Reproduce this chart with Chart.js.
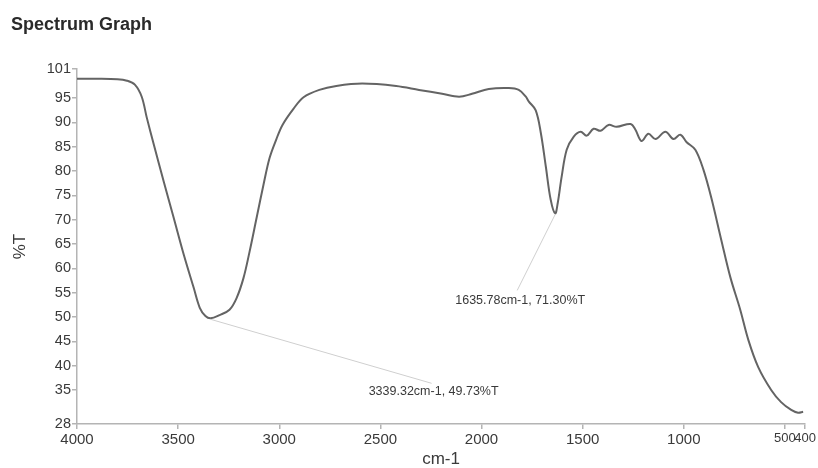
<!DOCTYPE html>
<html>
<head>
<meta charset="utf-8">
<title>Spectrum Graph</title>
<script src="https://cdn.jsdelivr.net/npm/chart.js@4/dist/chart.umd.min.js"></script>
<style>
    html, body { margin: 0; padding: 0; background: #fff; }
    canvas { display: block; }
</style>
</head>
<body>
<canvas id="spectrumChart" width="818" height="468"></canvas>
<script>
// wavenumber (cm-1) and transmittance (%T)
const wavenumbers = [
    4000, 3900, 3800, 3753, 3714, 3680, 3655, 3620, 3571, 3522, 3472, 3423, 3393, 3365,
    3339.32, 3295, 3246, 3211, 3177, 3147, 3112, 3078, 3048, 3015, 2984, 2930, 2880, 2802,
    2718, 2590, 2422, 2309, 2195, 2111, 2047, 1964, 1865, 1816, 1781, 1766, 1732, 1707,
    1682, 1658, 1635.78, 1623, 1604, 1579, 1544, 1510, 1480, 1446, 1411, 1372, 1332, 1263,
    1239, 1209, 1175, 1140, 1091, 1051, 1017, 987, 943, 903, 864, 815, 770, 721, 681, 632,
    568, 519, 469, 435, 410
];
const transmittance = [
    99.0, 99.0, 98.9, 98.6, 97.8, 95.3, 91.0, 85.4, 77.8, 70.4, 62.8, 56.0, 51.9, 50.2,
    49.73, 50.4, 51.5, 53.9, 58.0, 63.4, 70.4, 77.2, 82.7, 86.5, 89.5, 92.8, 95.2, 96.7,
    97.5, 98.0, 97.5, 96.7, 95.9, 95.3, 95.9, 96.9, 97.1, 96.7, 95.3, 94.3, 92.5, 87.9,
    80.9, 74.1, 71.30, 73.5, 78.8, 84.4, 87.1, 88.1, 87.3, 88.7, 88.3, 89.5, 89.1, 89.7,
    88.5, 86.2, 87.7, 86.6, 88.1, 86.6, 87.5, 86.0, 84.4, 80.3, 74.5, 65.9, 58.2, 51.5, 45.3, 39.7,
    35.0, 32.5, 30.9, 30.3, 30.5
];

// tick labels
const xTickValues = [4000, 3500, 3000, 2500, 2000, 1500, 1000, 500, 400];
const yTickValues = [28, 35, 40, 45, 50, 55, 60, 65, 70, 75, 80, 85, 90, 95, 101];

// marked peaks
const peakWavenumbers = [3339.32, 1635.78];
const peakTransmittance = [49.73, 71.30];

const fontFamily = '"Liberation Sans", Arial, sans-serif';
const axisColor = '#b4b4b4';
const textColor = '#3a3a3a';

// where each peak label sits relative to its point (px)
const peakLabelOffsets = [
    { lineX: 221, lineY: 65, textX: 2, textY: 8 },
    { lineX: -38, lineY: 77, textX: 3, textY: 10 }
];

const peakLabelsPlugin = {
    id: 'peakLabels',
    afterDatasetsDraw(chart) {
        const ctx = chart.ctx;
        const xScale = chart.scales.x;
        const yScale = chart.scales.y;
        ctx.save();
        peakWavenumbers.forEach((wn, i) => {
            const px = xScale.getPixelForValue(wn);
            const py = yScale.getPixelForValue(peakTransmittance[i]);
            const off = peakLabelOffsets[i];
            const ex = px + off.lineX;
            const ey = py + off.lineY;

            ctx.strokeStyle = '#cfcfcf';
            ctx.lineWidth = 1;
            ctx.beginPath();
            ctx.moveTo(px, py + 1);
            ctx.lineTo(ex, ey);
            ctx.stroke();

            ctx.fillStyle = textColor;
            ctx.font = '12.5px ' + fontFamily;
            ctx.textAlign = 'center';
            ctx.textBaseline = 'middle';
            const label = wn.toFixed(2) + 'cm-1, ' + peakTransmittance[i].toFixed(2) + '%T';
            ctx.fillText(label, ex + off.textX, ey + off.textY);
        });
        ctx.restore();
    }
};

const points = wavenumbers.map((wn, i) => ({ x: wn, y: transmittance[i] }));

new Chart(document.getElementById('spectrumChart').getContext('2d'), {
    type: 'line',
    data: {
        datasets: [{
            label: '%T',
            data: points,
            borderColor: '#646464',
            borderWidth: 2,
            pointRadius: 0,
            fill: false,
            tension: 0.35
        }]
    },
    options: {
        responsive: false,
        animation: false,
        layout: {
            padding: { left: 11, right: 11, top: 0, bottom: 0 }
        },
        plugins: {
            legend: { display: false },
            tooltip: { enabled: false },
            title: {
                display: true,
                text: 'Spectrum Graph',
                align: 'start',
                color: '#2a2a2a',
                font: { family: fontFamily, size: 18, weight: 'bold', lineHeight: 1.2 },
                padding: { top: 14, bottom: 33.4 }
            }
        },
        scales: {
            x: {
                type: 'linear',
                min: 400,
                max: 4000,
                reverse: true,
                afterBuildTicks: scale => {
                    scale.ticks = xTickValues.map(v => ({ value: v }));
                },
                afterFit: scale => {
                    scale.height = 44;
                },
                border: { color: axisColor, width: 1.5 },
                grid: { drawOnChartArea: false, tickLength: 5, color: axisColor, lineWidth: 1.5 },
                ticks: {
                    autoSkip: false,
                    maxRotation: 0,
                    padding: 2,
                    color: textColor,
                    font: ctx => ({
                        family: fontFamily,
                        size: (ctx.tick && ctx.tick.value <= 500) ? 13 : 15
                    }),
                    callback: value => String(value)
                },
                title: {
                    display: true,
                    text: 'cm-1',
                    color: textColor,
                    font: { family: fontFamily, size: 17, lineHeight: 1 },
                    padding: { top: 0, bottom: 0 }
                }
            },
            y: {
                min: 28,
                max: 101,
                afterBuildTicks: scale => {
                    scale.ticks = yTickValues.map(v => ({ value: v }));
                },
                afterFit: scale => {
                    scale.width = 66;
                },
                border: { color: axisColor, width: 1.5 },
                grid: { drawOnChartArea: false, tickLength: 5, color: axisColor, lineWidth: 1.5 },
                ticks: {
                    autoSkip: false,
                    padding: 1,
                    color: textColor,
                    font: { family: fontFamily, size: 14.5 },
                    callback: value => String(value)
                },
                title: {
                    display: true,
                    text: '%T',
                    color: textColor,
                    font: { family: fontFamily, size: 17, lineHeight: 1 },
                    padding: { top: 0.5, bottom: 0 }
                }
            }
        }
    },
    plugins: [peakLabelsPlugin]
});
</script>
</body>
</html>
